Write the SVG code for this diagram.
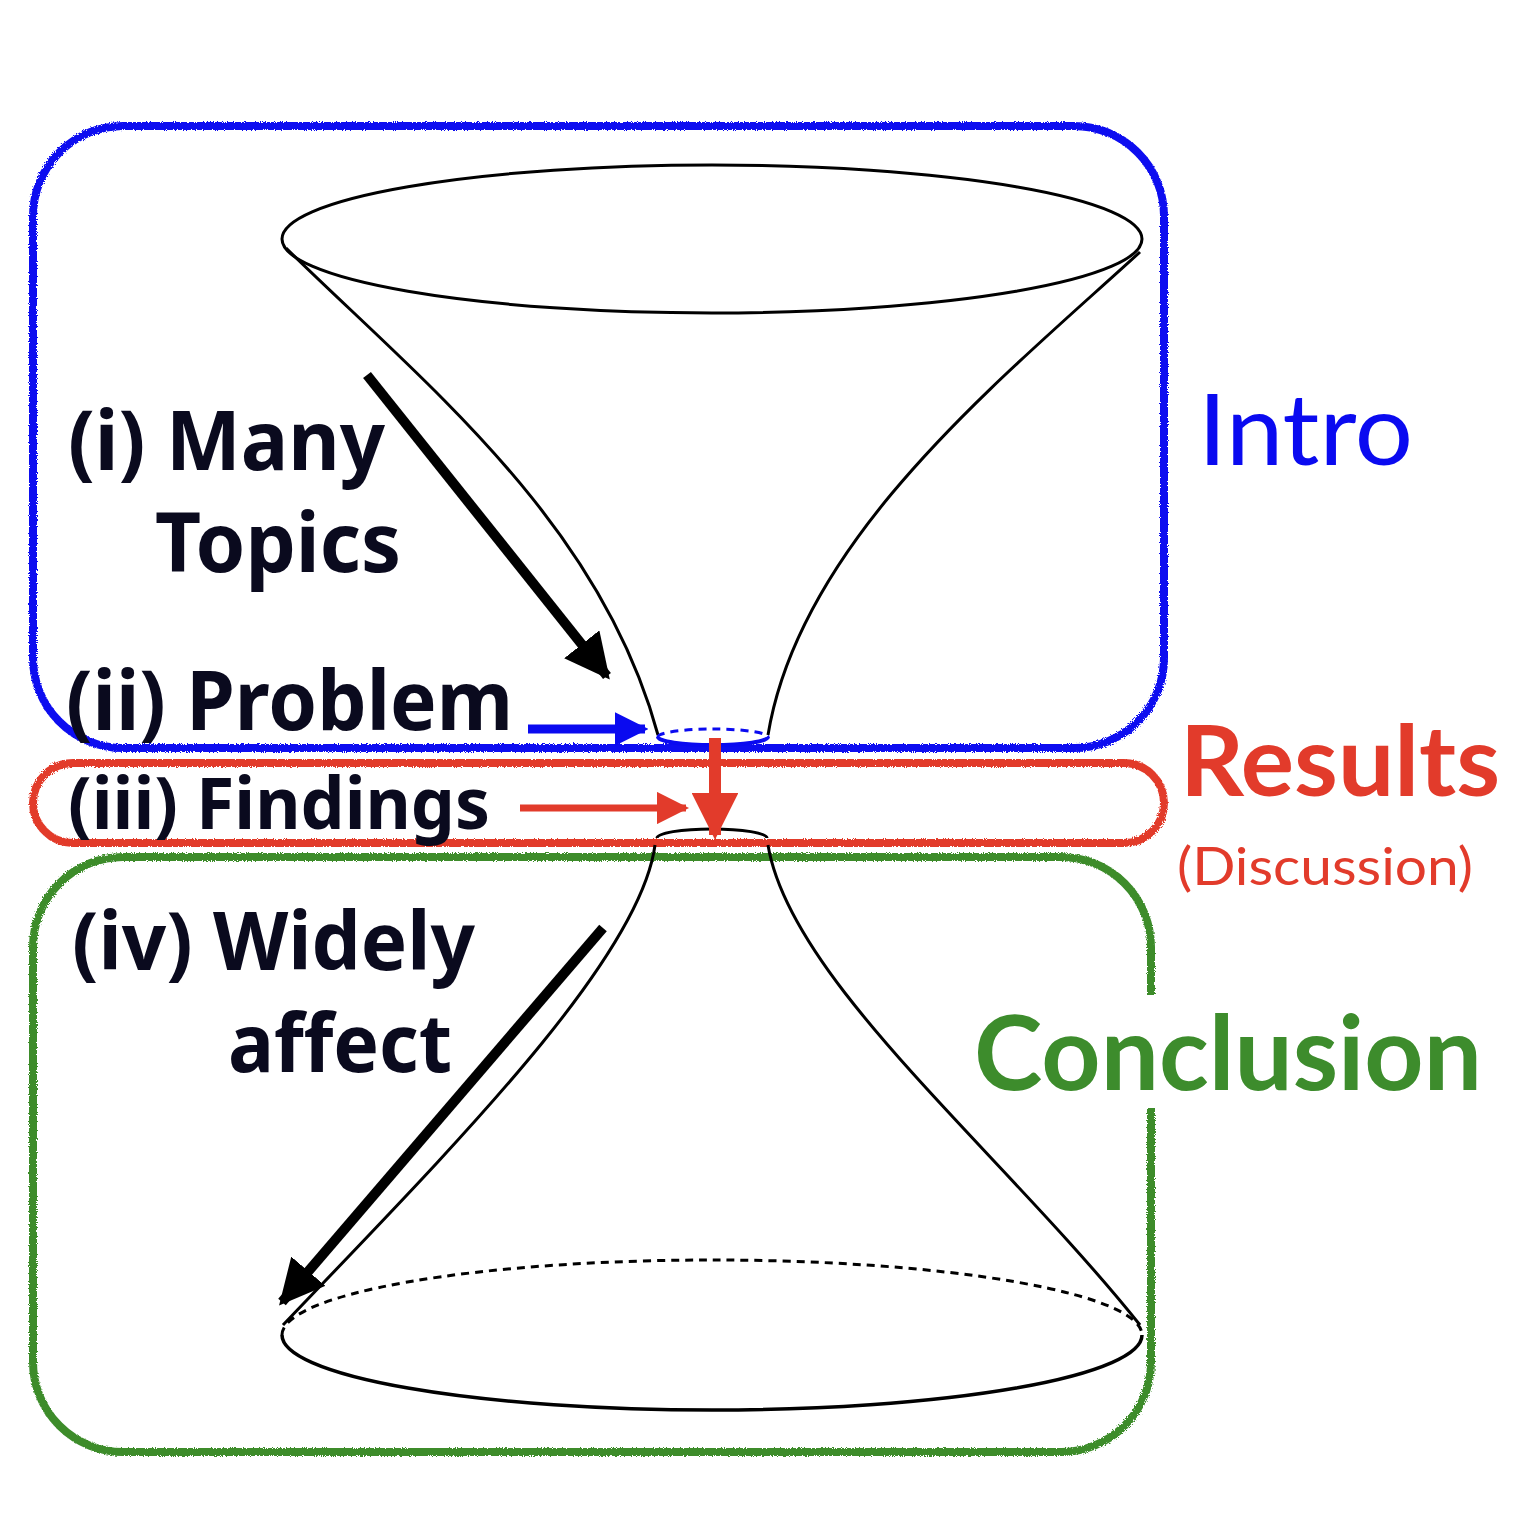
<svg xmlns="http://www.w3.org/2000/svg" width="1530" height="1528" viewBox="0 0 1530 1528">
<style>
.box{fill:none;stroke-width:8;filter:url(#rough)}
.blk{fill:none;stroke:#000;stroke-width:3}
.lbl{font-family:"Noto Sans","Liberation Sans",sans-serif;font-weight:bold;fill:#0a0a1e}
.sec{font-family:Lato,"Noto Sans",sans-serif}
</style>
<defs>
<filter id="rough" x="-5%" y="-5%" width="110%" height="110%">
<feTurbulence type="fractalNoise" baseFrequency="0.9" numOctaves="2" seed="3" result="n"/>
<feDisplacementMap in="SourceGraphic" in2="n" scale="4"/>
</filter>
<marker id="ahBlack" viewBox="0 0 10 10" refX="9" refY="5" markerWidth="4.5" markerHeight="4.5" orient="auto" markerUnits="strokeWidth"><path d="M0,0 L10,5 L0,10 z" fill="#000"/></marker>
<marker id="ahBlue" viewBox="0 0 10 10" refX="9" refY="5" markerWidth="3.7" markerHeight="3.7" orient="auto" markerUnits="strokeWidth"><path d="M0,0 L10,5 L0,10 z" fill="#0a0af0"/></marker>
<marker id="ahRed" viewBox="0 0 10 10" refX="9" refY="5" markerWidth="4.6" markerHeight="4.6" orient="auto" markerUnits="strokeWidth"><path d="M0,0 L10,5 L0,10 z" fill="#e23b2b"/></marker>
<marker id="ahRedV" viewBox="0 0 10 10" refX="9" refY="5" markerWidth="3.9" markerHeight="3.9" orient="auto" markerUnits="strokeWidth"><path d="M0,0 L10,5 L0,10 z" fill="#e23b2b"/></marker>
</defs>
<rect width="1530" height="1528" fill="#fff"/>

<g id="intro-box"><rect class="box" x="33" y="126" width="1131" height="622" rx="90" ry="90" stroke="#0a0af0"/></g>
<g id="results-box"><rect class="box" x="33" y="763" width="1131" height="80" rx="40" ry="40" stroke="#e23b2b"/></g>
<g id="conclusion-box"><rect class="box" x="33" y="857" width="1118" height="595" rx="90" ry="90" stroke="#3d8c2c"/></g>

<g id="funnel-top">
<ellipse class="blk" cx="712" cy="239" rx="430" ry="74"/>
<path class="blk" d="M286,248 C420,380 600,520 658,735"/>
<path class="blk" d="M1140,252 C1000,380 800,540 768,735"/>
</g>
<g id="neck-top">
<path d="M658,737 A55,8 0 0 1 768,737" fill="none" stroke="#0a0af0" stroke-width="3" stroke-dasharray="8,6"/>
<path d="M658,737 A55,8 0 0 0 768,737" fill="none" stroke="#0a0af0" stroke-width="4"/>
</g>
<g id="funnel-bottom">
<path class="blk" d="M657,838 A55,9 0 0 1 767,838"/>
<path class="blk" d="M655,845 C640,960 450,1150 283,1325"/>
<path class="blk" d="M768,845 C790,980 1000,1150 1140,1325"/>
<path d="M282,1335 A430,75 0 0 1 1142,1335" fill="none" stroke="#000" stroke-width="3" stroke-dasharray="8,6"/>
<path d="M282,1335 A430,75 0 0 0 1142,1335" fill="none" stroke="#000" stroke-width="3.5"/>
</g>

<g id="connectors">
<line x1="367" y1="375" x2="607" y2="676" stroke="#000" stroke-width="10" marker-end="url(#ahBlack)"/>
<line x1="603" y1="928" x2="282" y2="1302" stroke="#000" stroke-width="10" marker-end="url(#ahBlack)"/>
<line x1="528" y1="729" x2="645" y2="729" stroke="#0a0af0" stroke-width="9" marker-end="url(#ahBlue)"/>
<line x1="520" y1="808" x2="686" y2="808" stroke="#e23b2b" stroke-width="7" marker-end="url(#ahRed)"/>
<line x1="715" y1="738" x2="715" y2="835" stroke="#e23b2b" stroke-width="12" marker-end="url(#ahRedV)"/>
</g>

<g id="labels">
<text class="lbl" x="68" y="470" font-size="82" textLength="317" lengthAdjust="spacingAndGlyphs">(i) Many</text>
<text class="lbl" x="155" y="572" font-size="82" textLength="246" lengthAdjust="spacingAndGlyphs">Topics</text>
<text class="lbl" x="66" y="730" font-size="82" textLength="447" lengthAdjust="spacingAndGlyphs">(ii) Problem</text>
<text class="lbl" x="68" y="829" font-size="72" textLength="422" lengthAdjust="spacingAndGlyphs">(iii) Findings</text>
<text class="lbl" x="72" y="970" font-size="80" textLength="403" lengthAdjust="spacingAndGlyphs">(iv) Widely</text>
<text class="lbl" x="228" y="1072" font-size="80" textLength="224" lengthAdjust="spacingAndGlyphs">affect</text>
</g>

<g id="section-intro"><text class="sec" x="1198" y="465" font-size="98" fill="#0a0af0" textLength="215" lengthAdjust="spacingAndGlyphs">Intro</text></g>
<g id="section-results">
<text class="sec" x="1180" y="796" font-size="98" font-weight="bold" fill="#e23b2b" textLength="320" lengthAdjust="spacingAndGlyphs">Results</text>
<text class="sec" x="1177" y="885" font-size="52" fill="#e23b2b" textLength="296" lengthAdjust="spacingAndGlyphs">(Discussion)</text>
</g>
<g id="section-conclusion">
<rect x="968" y="995" width="525" height="113" fill="#fff"/>
<text class="sec" x="974" y="1090" font-size="104" font-weight="bold" fill="#3d8c2c" textLength="508" lengthAdjust="spacingAndGlyphs">Conclusion</text>
</g>
</svg>
